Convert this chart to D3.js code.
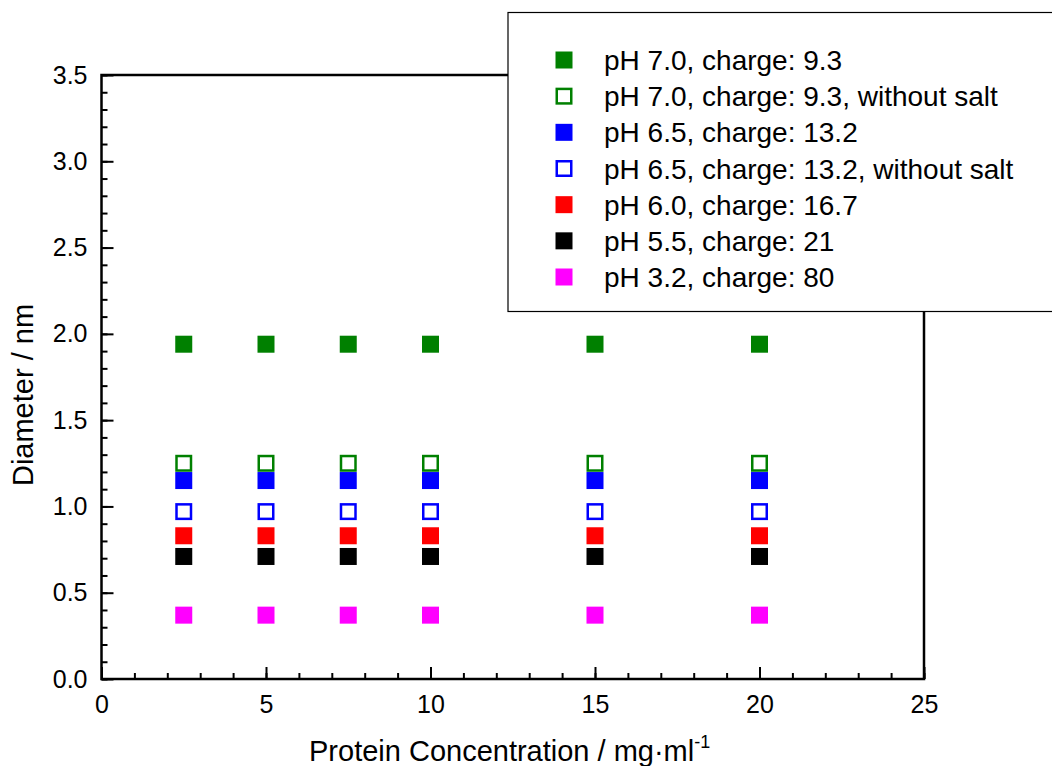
<!DOCTYPE html>
<html>
<head>
<meta charset="utf-8">
<script src="https://cdn.jsdelivr.net/npm/d3@7"></script>
<style>
  body { margin: 0; background: #fff; }
  svg { display: block; font-family: "Liberation Sans", Arial, sans-serif; }
  .frame { fill: none; stroke: #000; stroke-width: 2.5; }
  .tick line { stroke: #000; stroke-width: 2; }
  .tick text { font-size: 25px; fill: #000; }
  .label { font-size: 29px; fill: #000; }
  .legend-box { fill: #fff; stroke: #000; stroke-width: 1.2; }
  .legend-text { font-size: 28px; fill: #000; }
</style>
</head>
<body>
<svg id="chart" width="1052" height="766"></svg>
<script>
const concentrations = [2.5, 5, 7.5, 10, 15, 20];

const seriesNames = [
  "pH 7.0, charge: 9.3",
  "pH 7.0, charge: 9.3, without salt",
  "pH 6.5, charge: 13.2",
  "pH 6.5, charge: 13.2, without salt",
  "pH 6.0, charge: 16.7",
  "pH 5.5, charge: 21",
  "pH 3.2, charge: 80"
];
const seriesColors = ["#008000", "#008000", "#0000ff", "#0000ff", "#ff0000", "#000000", "#ff00ff"];
const seriesHollow = [false, true, false, true, false, false, false];

const diam_pH70 = [1.94, 1.94, 1.94, 1.94, 1.94, 1.94];
const diam_pH70_noSalt = [1.25, 1.25, 1.25, 1.25, 1.25, 1.25];
const diam_pH65 = [1.15, 1.15, 1.15, 1.15, 1.15, 1.15];
const diam_pH65_noSalt = [0.97, 0.97, 0.97, 0.97, 0.97, 0.97];
const diam_pH60 = [0.83, 0.83, 0.83, 0.83, 0.83, 0.83];
const diam_pH55 = [0.71, 0.71, 0.71, 0.71, 0.71, 0.71];
const diam_pH32 = [0.37, 0.37, 0.37, 0.37, 0.37, 0.37];

const seriesValues = [diam_pH70, diam_pH70_noSalt, diam_pH65, diam_pH65_noSalt, diam_pH60, diam_pH55, diam_pH32];

const xTicks = [0, 5, 10, 15, 20, 25];
const yTicks = [0, 0.5, 1.0, 1.5, 2.0, 2.5, 3.0, 3.5];

const margin = { left: 101.5, right: 924, top: 75, bottom: 679 };

const svg = d3.select("#chart");

const x = d3.scaleLinear().domain([0, 25]).range([margin.left, margin.right]);
const y = d3.scaleLinear().domain([0, 3.5]).range([margin.bottom, margin.top]);

// minor ticks
svg.append("g")
  .attr("transform", `translate(0,${margin.bottom})`)
  .call(d3.axisBottom(x).tickValues(d3.range(0, 26, 1)).tickSize(-6).tickFormat(""))
  .call(g => g.select(".domain").remove());
svg.append("g")
  .attr("transform", `translate(${margin.left},0)`)
  .call(d3.axisLeft(y).tickValues(d3.range(0, 36, 1).map(d => d / 10)).tickSize(-6).tickFormat(""))
  .call(g => g.select(".domain").remove());

// major ticks with labels
svg.append("g")
  .attr("transform", `translate(0,${margin.bottom})`)
  .call(d3.axisBottom(x).tickValues(xTicks).tickSize(-12).tickPadding(16).tickFormat(d3.format("d")))
  .call(g => g.select(".domain").remove());
svg.append("g")
  .attr("transform", `translate(${margin.left},0)`)
  .call(d3.axisLeft(y).tickValues(yTicks).tickSize(-12).tickPadding(14).tickFormat(d3.format(".1f")))
  .call(g => g.select(".domain").remove());

svg.append("rect").attr("class", "frame")
  .attr("x", margin.left).attr("y", margin.top)
  .attr("width", margin.right - margin.left).attr("height", margin.bottom - margin.top);

// data markers
const size = 17;
seriesValues.forEach((vals, i) => {
  const hollow = seriesHollow[i];
  svg.append("g").selectAll("rect")
    .data(vals.map((v, j) => ({ x: concentrations[j], y: v })))
    .join("rect")
    .attr("x", d => x(d.x) - size / 2 + (hollow ? 1.25 : 0))
    .attr("y", d => y(d.y) - size / 2 + (hollow ? 1.25 : 0))
    .attr("width", hollow ? size - 2.5 : size)
    .attr("height", hollow ? size - 2.5 : size)
    .attr("fill", hollow ? "#fff" : seriesColors[i])
    .attr("stroke", hollow ? seriesColors[i] : "none")
    .attr("stroke-width", 2.5);
});

// axis labels
svg.append("text").attr("class", "label")
  .attr("x", 309).attr("y", 761)
  .text("Protein Concentration / mg·ml")
  .append("tspan").attr("dy", -13).attr("font-size", 18).text("-1");

svg.append("text").attr("class", "label")
  .attr("transform", "translate(33,395) rotate(-90)")
  .attr("text-anchor", "middle")
  .text("Diameter / nm");

// legend
const legend = svg.append("g");
legend.append("rect").attr("class", "legend-box")
  .attr("x", 508).attr("y", 12.5).attr("width", 560).attr("height", 299);

const rowY = d3.scaleLinear().domain([0, 6]).range([60, 277]);
seriesNames.forEach((name, i) => {
  const cy = rowY(i);
  const hollow = seriesHollow[i];
  const s = 17;
  legend.append("rect")
    .attr("x", 564 - s / 2 + (hollow ? 1.25 : 0))
    .attr("y", cy - s / 2 + (hollow ? 1.25 : 0))
    .attr("width", hollow ? s - 2.5 : s)
    .attr("height", hollow ? s - 2.5 : s)
    .attr("fill", hollow ? "#fff" : seriesColors[i])
    .attr("stroke", hollow ? seriesColors[i] : "none")
    .attr("stroke-width", 2.5);
  legend.append("text").attr("class", "legend-text")
    .attr("x", 604).attr("y", cy + 10)
    .text(name);
});
</script>
</body>
</html>
